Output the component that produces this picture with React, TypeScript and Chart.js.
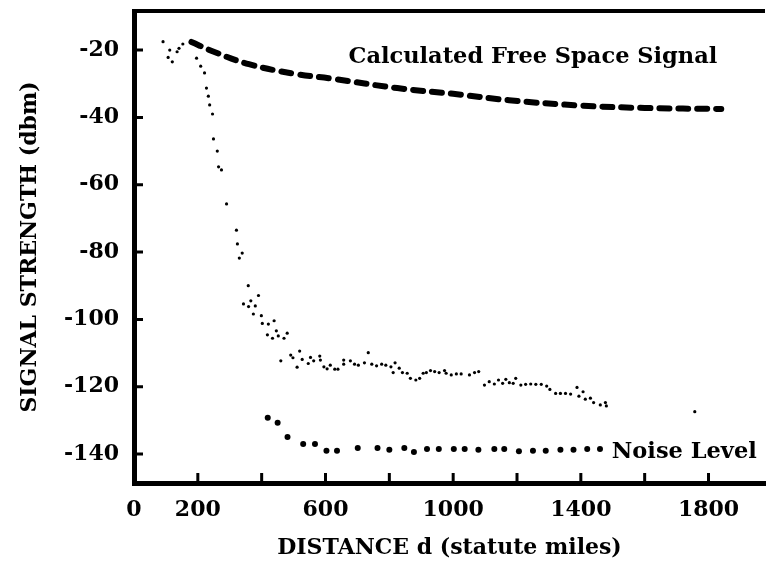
import React, { useEffect, useRef } from 'react';
import { Chart, registerables } from 'chart.js';

Chart.register(...registerables);

// Calculated free space signal (dBm vs statute miles)
const FREE_X = [180, 250, 360, 500, 620, 825, 1000, 1175, 1400, 1600, 1840];
const FREE_Y = [-17.6, -20.5, -24.2, -27, -28.5, -31.3, -33, -34.9, -36.5, -37.2, -37.5];

// Measured signal strength
const SIG_X = [
  91, 107, 112, 120, 135, 141, 153,
  196, 209, 221, 227, 233, 237, 246, 249, 261, 265, 274, 290, 321, 324, 339, 330,
  358, 343, 359, 366, 380, 390, 374, 399, 402, 421, 439, 418, 434, 446, 452, 470, 480,
  460, 491, 498, 511, 519, 527, 546, 553, 563, 582, 584, 595, 605, 615, 629, 639, 657, 657,
  678, 691, 703, 722, 734, 745, 760, 776, 789, 805, 812, 818,
  831, 841, 856, 866, 883, 895, 906, 916, 929, 942, 956, 973, 978, 994, 1010, 1025, 1051,
  1067, 1080, 1098, 1113, 1129, 1142, 1155, 1165, 1176, 1188, 1196, 1212,
  1227, 1243, 1259, 1276, 1293, 1303, 1321, 1336, 1352, 1368, 1388, 1394, 1407, 1414, 1430,
  1440, 1461, 1477, 1480, 1757,
];
const SIG_Y = [
  -17.5, -22.2, -20, -23.5, -20.5, -19.5, -18.2,
  -22.4, -24.8, -26.8, -31.3, -33.7, -36.3, -39.0, -46.4, -50.0, -54.7, -55.6, -65.7, -73.5, -77.6, -80.3, -81.8,
  -90.0, -95.4, -96.2, -94.5, -96.0, -92.9, -98.4, -98.9, -101.2, -101.4, -100.4, -104.6, -105.6, -103.4, -104.9, -105.6, -104.1,
  -112.3, -110.6, -111.4, -114.2, -109.4, -111.9, -113.1, -111.3, -112.3, -110.9, -112.1, -114.1, -114.7, -113.6, -114.8, -114.8, -113.3, -112.1,
  -112.3, -113.3, -113.6, -112.9, -109.9, -113.3, -113.8, -113.3, -113.6, -114.1, -115.8, -112.9,
  -114.5, -115.8, -116.0, -117.5, -118.0, -117.5, -116.0, -115.8, -115.2, -115.5, -115.8, -115.2, -116.0, -116.5, -116.2, -116.2, -116.5,
  -115.8, -115.5, -119.5, -118.5, -119.2, -118.0, -119.0, -117.8, -118.8, -119.0, -117.5, -119.5,
  -119.3, -119.2, -119.3, -119.3, -119.8, -120.8, -122.0, -122.0, -122.0, -122.2, -120.2, -122.8, -121.5, -123.7, -123.4,
  -124.7, -125.4, -124.7, -125.7, -127.4,
];

// Noise level
const NOISE_X = [419, 450, 481, 530, 567, 603, 636, 701, 763, 800, 847, 877, 918, 955, 1002, 1036, 1079, 1129, 1160, 1206, 1250, 1290, 1336, 1377, 1420, 1460];
const NOISE_Y = [-129.2, -130.7, -134.9, -137, -137, -139, -139, -138.2, -138.2, -138.7, -138.2, -139.4, -138.5, -138.5, -138.5, -138.5, -138.7, -138.5, -138.5, -139.2, -139, -139, -138.7, -138.7, -138.5, -138.5];

const X_TICKS = [0, 200, 400, 600, 800, 1000, 1200, 1400, 1600, 1800];
const X_LABELED = [0, 200, 600, 1000, 1400, 1800];
const Y_TICKS = [-20, -40, -60, -80, -100, -120, -140];

const FREE_LABEL = 'Calculated Free Space Signal';
const FREE_LABEL_POS = [672, -22.1];
const NOISE_LABEL = 'Noise Level';
const NOISE_LABEL_POS = [1497, -139.4];

const FONT = '"DejaVu Serif", "Liberation Serif", serif';

const framePlugin = {
  id: 'frame',
  afterDatasetsDraw(chart: any) {
    const { ctx, chartArea, scales } = chart;
    const x = scales.x;
    const y = scales.y;
    ctx.save();
    ctx.strokeStyle = '#000';
    ctx.lineCap = 'butt';
    // top frame line
    ctx.lineWidth = 4;
    ctx.beginPath();
    ctx.moveTo(chartArea.left - 2, chartArea.top);
    ctx.lineTo(chartArea.right, chartArea.top);
    ctx.stroke();
    // inward tick marks
    ctx.lineWidth = 3;
    ctx.beginPath();
    for (const v of X_TICKS) {
      if (v === 0) continue;
      const px = x.getPixelForValue(v);
      ctx.moveTo(px, chartArea.bottom);
      ctx.lineTo(px, chartArea.bottom - 10);
    }
    for (const v of Y_TICKS) {
      const py = y.getPixelForValue(v);
      ctx.moveTo(chartArea.left, py);
      ctx.lineTo(chartArea.left + 9, py);
    }
    ctx.stroke();
    // annotations
    ctx.fillStyle = '#000';
    ctx.font = `bold 22.5px ${FONT}`;
    ctx.textAlign = 'left';
    ctx.textBaseline = 'middle';
    ctx.fillText(FREE_LABEL, x.getPixelForValue(FREE_LABEL_POS[0]), y.getPixelForValue(FREE_LABEL_POS[1]));
    ctx.fillText(NOISE_LABEL, x.getPixelForValue(NOISE_LABEL_POS[0]), y.getPixelForValue(NOISE_LABEL_POS[1]));
    ctx.restore();
  },
};

export default function App() {
  const ref = useRef<HTMLCanvasElement | null>(null);

  useEffect(() => {
    if (!ref.current) return;
    const tickFont = { family: FONT, size: 22, weight: 'bold' as const };
    const chart = new Chart(ref.current, {
      type: 'scatter',
      data: {
        datasets: [
          {
            type: 'line',
            data: FREE_X.map((v, i) => ({ x: v, y: FREE_Y[i] })),
            borderColor: '#000',
            borderWidth: 6,
            borderDash: [10, 9],
            borderCapStyle: 'round',
            pointRadius: 0,
            tension: 0.4,
            fill: false,
          } as any,
          {
            data: SIG_X.map((v, i) => ({ x: v, y: SIG_Y[i] })),
            backgroundColor: '#000',
            borderWidth: 0,
            pointRadius: 1.6,
          },
          {
            data: NOISE_X.map((v, i) => ({ x: v, y: NOISE_Y[i] })),
            backgroundColor: '#000',
            borderWidth: 0,
            pointRadius: 3,
          },
        ],
      },
      options: {
        responsive: false,
        animation: false,
        layout: { padding: { top: 11, right: 0, left: 0, bottom: 0 } },
        plugins: { legend: { display: false }, tooltip: { enabled: false } },
        scales: {
          x: {
            type: 'linear',
            min: 0,
            max: 1977,
            afterBuildTicks: (s: any) => {
              s.ticks = X_TICKS.map((v) => ({ value: v }));
            },
            afterFit: (s: any) => {
              s.height = 82;
              s.paddingLeft = 0;
              s.paddingRight = 0;
            },
            ticks: {
              autoSkip: false,
              maxRotation: 0,
              color: '#000',
              font: tickFont,
              padding: 14,
              callback: (v: any) => (X_LABELED.includes(Number(v)) ? String(v) : ''),
            },
            grid: { display: false, drawTicks: false },
            border: { display: true, width: 5, color: '#000' },
            title: {
              display: true,
              text: 'DISTANCE d (statute miles)',
              color: '#000',
              font: tickFont,
              padding: { top: 0, bottom: 4 },
            },
          },
          y: {
            type: 'linear',
            min: -148.6,
            max: -8.4,
            afterBuildTicks: (s: any) => {
              s.ticks = Y_TICKS.map((v) => ({ value: v }));
            },
            afterFit: (s: any) => {
              s.width = 134;
              s.paddingTop = 0;
              s.paddingBottom = 0;
            },
            ticks: {
              color: '#000',
              font: tickFont,
              padding: 15,
              callback: (v: any) => String(v),
            },
            grid: { display: false, drawTicks: false },
            border: { display: true, width: 5, color: '#000' },
            title: {
              display: true,
              text: 'SIGNAL STRENGTH (dbm)',
              color: '#000',
              font: tickFont,
              padding: { top: 17, bottom: 0 },
            },
          },
        },
      },
      plugins: [framePlugin],
    } as any);
    return () => chart.destroy();
  }, []);

  return (
    <canvas
      ref={ref}
      width={769}
      height={565}
      style={{ position: 'absolute', left: 0, top: 0, display: 'block', background: '#fff' }}
    />
  );
}
